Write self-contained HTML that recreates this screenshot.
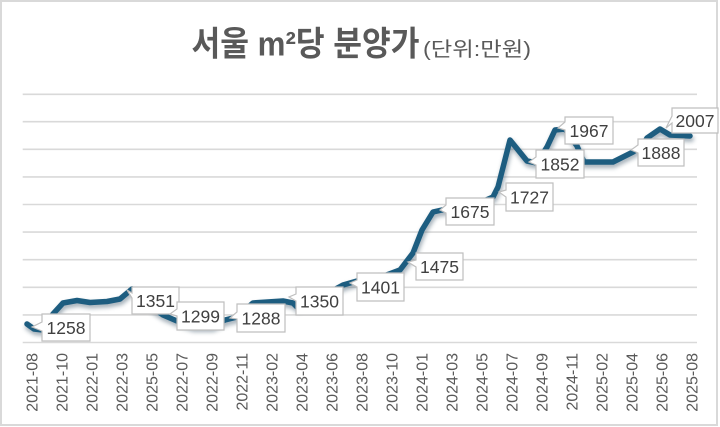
<!DOCTYPE html>
<html>
<head>
<meta charset="utf-8">
<style>
  html,body{margin:0;padding:0;background:#fff;}
  body{width:720px;height:427px;overflow:hidden;}
  svg{display:block;}
</style>
</head>
<body>
<svg width="720" height="427" viewBox="0 0 720 427" xmlns="http://www.w3.org/2000/svg">
  <defs>
    <filter id="sh" x="-10%" y="-20%" width="120%" height="140%">
      <feGaussianBlur stdDeviation="2"/>
    </filter>
  </defs>
  <rect x="0" y="0" width="720" height="427" fill="#fff"/>
  <rect x="1" y="1" width="716" height="424" fill="#fff" stroke="#d9d9d9" stroke-width="2"/>

  <text x="191.5" y="55.5" textLength="228" lengthAdjust="spacingAndGlyphs" font-family="'Liberation Sans','Noto Sans CJK KR',sans-serif" font-size="34" font-weight="bold" fill="#595959">서울 m²당 분양가</text>
  <text x="423" y="56" textLength="108" lengthAdjust="spacingAndGlyphs" font-family="'Liberation Sans','Noto Sans CJK KR',sans-serif" font-size="20" fill="#595959">(단위:만원)</text>

  <g stroke="#d9d9d9" stroke-width="1.6">
    <line x1="22.7" y1="94.3" x2="697" y2="94.3"/>
    <line x1="22.7" y1="121.7" x2="697" y2="121.7"/>
    <line x1="22.7" y1="149.3" x2="697" y2="149.3"/>
    <line x1="22.7" y1="176.9" x2="697" y2="176.9"/>
    <line x1="22.7" y1="204.5" x2="697" y2="204.5"/>
    <line x1="22.7" y1="232.1" x2="697" y2="232.1"/>
    <line x1="22.7" y1="259.7" x2="697" y2="259.7"/>
    <line x1="22.7" y1="287.3" x2="697" y2="287.3"/>
    <line x1="22.7" y1="314.9" x2="697" y2="314.9"/>
    <line x1="22.7" y1="342.5" x2="697" y2="342.5"/>
  </g>

  <path d="M27,324 L34,329 L43,330 L53,314 L63,303 L77,300.5 L90,302.5 L107,301.5 L120,299 L132,289 L150,306 L163,315 L177,321 L193,326 L212,326 L225,320 L237,317 L253,303 L283,301 L293,303 L297,307 L330,292 L343,285 L357,281 L384,276 L400,270 L413,253 L422,230 L433,212 L442,210 L470,207 L493,197 L498,187 L510,140 L527,161 L537,163 L547,147 L555,130 L565,129 L577,146 L584,162 L613,162 L633,152 L643,145 L647,138 L660,129 L670,135 L690,136" fill="none" stroke="#5a6f80" stroke-width="6" stroke-linejoin="round" stroke-linecap="round" opacity="0.55" transform="translate(1,3)" filter="url(#sh)"/>
  <path d="M27,324 L34,329 L43,330 L53,314 L63,303 L77,300.5 L90,302.5 L107,301.5 L120,299 L132,289 L150,306 L163,315 L177,321 L193,326 L212,326 L225,320 L237,317 L253,303 L283,301 L293,303 L297,307 L330,292 L343,285 L357,281 L384,276 L400,270 L413,253 L422,230 L433,212 L442,210 L470,207 L493,197 L498,187 L510,140 L527,161 L537,163 L547,147 L555,130 L565,129 L577,146 L584,162 L613,162 L633,152 L643,145 L647,138 L660,129 L670,135 L690,136" fill="none" stroke="#1d5d80" stroke-width="5.5" stroke-linejoin="round" stroke-linecap="round"/>

  <g font-family="'Liberation Sans',sans-serif" font-size="17.5" fill="#404040" text-anchor="middle">
    <path d="M42,314 H90 V341 H42 V331 L32,327 L42,322 Z" fill="#fff" stroke="#bfbfbf" stroke-width="1.2"/>
    <text x="66" y="334">1258</text>
    <path d="M132,287 H179 V314 H132 V298 L127,290 L132,293 Z" fill="#fff" stroke="#bfbfbf" stroke-width="1.2"/>
    <text x="155.5" y="307">1351</text>
    <path d="M177,302 H224 V330 H177 V316 L170,314 L177,309 Z" fill="#fff" stroke="#bfbfbf" stroke-width="1.2"/>
    <text x="200.5" y="322.5">1299</text>
    <path d="M237,304 H285 V332 H237 V319 L230,318 L237,312 Z" fill="#fff" stroke="#bfbfbf" stroke-width="1.2"/>
    <text x="261" y="324.5">1288</text>
    <path d="M296,287 H343 V315 H296 V301 L289,297 L296,294 Z" fill="#fff" stroke="#bfbfbf" stroke-width="1.2"/>
    <text x="319.5" y="307.5">1350</text>
    <path d="M357,273 H404 V301 H357 V287 L350,283 L357,280 Z" fill="#fff" stroke="#bfbfbf" stroke-width="1.2"/>
    <text x="380.5" y="293.5">1401</text>
    <path d="M416,253 H463 V280 H416 V267 L408,262 L416,260 Z" fill="#fff" stroke="#bfbfbf" stroke-width="1.2"/>
    <text x="439.5" y="273">1475</text>
    <path d="M446,198 H494 V225 H446 V213 L440,210 L446,205 Z" fill="#fff" stroke="#bfbfbf" stroke-width="1.2"/>
    <text x="470" y="218">1675</text>
    <path d="M506,183 H553 V211 H506 V197 L499,192 L506,190 Z" fill="#fff" stroke="#bfbfbf" stroke-width="1.2"/>
    <text x="529.5" y="203.5">1727</text>
    <path d="M536,150 H584 V178 H536 V165 L529,162 L536,157 Z" fill="#fff" stroke="#bfbfbf" stroke-width="1.2"/>
    <text x="560" y="170.5">1852</text>
    <path d="M565,117 H613 V144 H565 V130 L558,128 L565,122 Z" fill="#fff" stroke="#bfbfbf" stroke-width="1.2"/>
    <text x="589" y="137">1967</text>
    <path d="M638,139 H684 V166 H638 V153 L631,150 L638,145 Z" fill="#fff" stroke="#bfbfbf" stroke-width="1.2"/>
    <text x="661" y="159">1888</text>
    <path d="M672,108 H718 V133 H672 V123 L666,128 L672,116 Z" fill="#fff" stroke="#bfbfbf" stroke-width="1.2"/>
    <text x="695" y="127">2007</text>
  </g>

  <g font-family="'Liberation Sans',sans-serif" font-size="16" fill="#595959" text-anchor="end">
    <text transform="translate(37.4,353) rotate(-90)">2021-08</text>
    <text transform="translate(67.4,353) rotate(-90)">2021-10</text>
    <text transform="translate(97.4,353) rotate(-90)">2022-01</text>
    <text transform="translate(127.4,353) rotate(-90)">2022-03</text>
    <text transform="translate(157.4,353) rotate(-90)">2025-05</text>
    <text transform="translate(187.4,353) rotate(-90)">2022-07</text>
    <text transform="translate(217.4,353) rotate(-90)">2022-09</text>
    <text transform="translate(247.4,353) rotate(-90)">2022-11</text>
    <text transform="translate(277.4,353) rotate(-90)">2023-02</text>
    <text transform="translate(307.4,353) rotate(-90)">2023-04</text>
    <text transform="translate(337.4,353) rotate(-90)">2023-06</text>
    <text transform="translate(367.4,353) rotate(-90)">2023-08</text>
    <text transform="translate(397.4,353) rotate(-90)">2023-10</text>
    <text transform="translate(427.4,353) rotate(-90)">2024-01</text>
    <text transform="translate(457.4,353) rotate(-90)">2024-03</text>
    <text transform="translate(487.4,353) rotate(-90)">2024-05</text>
    <text transform="translate(517.4,353) rotate(-90)">2024-07</text>
    <text transform="translate(547.4,353) rotate(-90)">2024-09</text>
    <text transform="translate(577.4,353) rotate(-90)">2024-11</text>
    <text transform="translate(607.4,353) rotate(-90)">2025-02</text>
    <text transform="translate(637.4,353) rotate(-90)">2025-04</text>
    <text transform="translate(667.4,353) rotate(-90)">2025-06</text>
    <text transform="translate(697.4,353) rotate(-90)">2025-08</text>
  </g>
</svg>
</body>
</html>
